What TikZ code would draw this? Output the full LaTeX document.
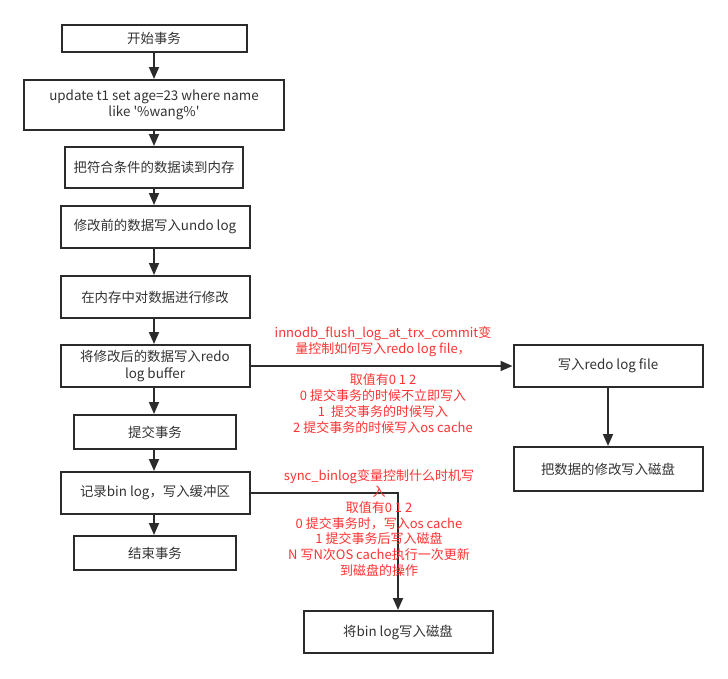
\documentclass[tikz,border=0pt]{standalone}
\usepackage{fontspec}
\newfontfamily\cjkfont{Noto Sans CJK SC}
\usetikzlibrary{arrows.meta}
\definecolor{boxline}{HTML}{2B2B2B}
\definecolor{txtgray}{HTML}{333333}
\definecolor{redtxt}{HTML}{FF3333}
\begin{document}
\begin{tikzpicture}[x=1pt,y=1pt,
  box/.style={draw=boxline, line width=2pt, inner sep=0pt, align=center,
    font=\cjkfont\fontsize{13.4}{16.5}\selectfont, text=txtgray},
  conn/.style={draw=boxline, line width=1.8pt, -{Triangle[length=12pt,width=10pt]}},
  note/.style={align=center, text=redtxt, font=\cjkfont\fontsize{13}{15.9}\selectfont, inner sep=0pt}]
\useasboundingbox (0,0) rectangle (728,-678);
\fill[white] (0,0) rectangle (728,-678);
% left column
\node[box, minimum width=185pt, minimum height=27pt] (start) at (154,-38.5) {开始事务};
\node[box, minimum width=260pt, minimum height=50pt] (upd) at (154,-105) {update t1 set age=23 where name\\like '\%wang\%'};
\node[box, minimum width=178pt, minimum height=41pt] (read) at (154,-167.5) {把符合条件的数据读到内存};
\node[box, minimum width=189pt, minimum height=42pt] (undo) at (155,-227) {修改前的数据写入undo log};
\node[box, minimum width=189pt, minimum height=42pt] (mod) at (155,-297) {在内存中对数据进行修改};
\node[box, minimum width=189pt, minimum height=42pt] (redo) at (155,-366) {将修改后的数据写入redo\\log buffer};
\node[box, minimum width=162pt, minimum height=34pt] (commit) at (155,-432) {提交事务};
\node[box, minimum width=189pt, minimum height=42pt] (binlog) at (155,-493) {记录bin log，写入缓冲区};
\node[box, minimum width=162pt, minimum height=34pt] (end) at (155,-553) {结束事务};
% right side
\node[box, minimum width=189pt, minimum height=42pt] (file) at (608,-366) {写入redo log file};
\node[box, minimum width=189pt, minimum height=44pt] (disk) at (608,-469) {把数据的修改写入磁盘};
\node[box, minimum width=189pt, minimum height=42pt] (bindisk) at (398,-632) {将bin log写入磁盘};
% connectors
\coordinate (cx) at (154,0);
\draw[conn] (start.south -| cx) -- (upd.north -| cx);
\draw[conn] (upd.south -| cx) -- (read.north -| cx);
\draw[conn] (read.south -| cx) -- (undo.north -| cx);
\draw[conn] (undo.south -| cx) -- (mod.north -| cx);
\draw[conn] (mod.south -| cx) -- (redo.north -| cx);
\draw[conn] (redo.south -| cx) -- (commit.north -| cx);
\draw[conn] (commit.south -| cx) -- (binlog.north -| cx);
\draw[conn] (binlog.south -| cx) -- (end.north -| cx);
\draw[conn] (redo.east) -- (file.west);
\draw[conn] (file.south) -- (disk.north);
\draw[conn] (binlog.east) -| (bindisk.north);
% notes
\node[note] (n1) at (383,-380) {innodb\_flush\_log\_at\_trx\_commit变\\量控制如何写入redo log file，\\[15.9pt]取值有0 1 2\\0 提交事务的时候不立即写入\\1\ \ 提交事务的时候写入\\2 提交事务的时候写入os cache};
\node[note] (n2) at (379,-523) {sync\_binlog变量控制什么时机写\\入\\取值有0 1 2\\0 提交事务时，写入os cache\\1 提交事务后写入磁盘\\N 写N次OS cache执行一次更新\\到磁盘的操作};
\end{tikzpicture}
\end{document}
